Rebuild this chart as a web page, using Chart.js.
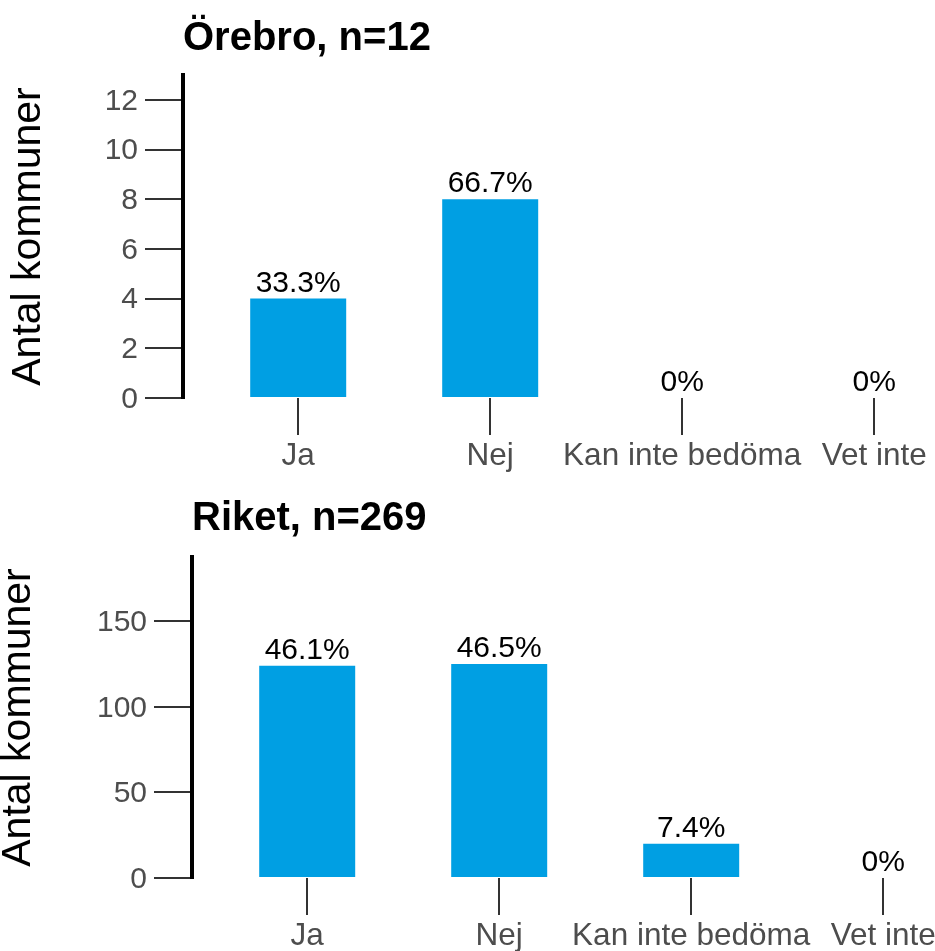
<!DOCTYPE html>
<html>
<head>
<meta charset="utf-8">
<script src="https://cdn.jsdelivr.net/npm/chart.js@4"></script>
<style>
  html, body { margin: 0; padding: 0; background: #fff; overflow: hidden; width: 935px; height: 951px; }
  .wrap { position: absolute; left: 0; }
  canvas { display: block; }
</style>
</head>
<body>
<div class="wrap" style="top:0"><canvas id="c1" width="1000" height="480"></canvas></div>
<div class="wrap" style="top:480px"><canvas id="c2" width="1000" height="471"></canvas></div>
<script>
// ---- data ----
const categories = ['Ja', 'Nej', 'Kan inte bedöma', 'Vet inte'];

const orebroTitle = 'Örebro, n=12';
const orebroValues = [4, 8, 0, 0];
const orebroPct = ['33.3%', '66.7%', '0%', '0%'];
const orebroTicks = [0, 2, 4, 6, 8, 10, 12];
const orebroMax = 13;

const riketTitle = 'Riket, n=269';
const riketValues = [124, 125, 20, 0];
const riketPct = ['46.1%', '46.5%', '7.4%', '0%'];
const riketTicks = [0, 50, 100, 150];
const riketMax = 187.5;

const yTitle = 'Antal kommuner';

// ---- chart builder ----
const FONT = "'Liberation Sans', Arial, Helvetica, sans-serif";
const BAR = '#009FE3';
const GREY = '#4D4D4D';
const TICKC = '#333333';

const labelPlugin = {
  id: 'pctLabels',
  afterDatasetsDraw(chart, args, opts) {
    const ctx = chart.ctx;
    const meta = chart.getDatasetMeta(0);
    ctx.save();
    ctx.font = '30px ' + FONT;
    ctx.fillStyle = '#000';
    ctx.textAlign = 'center';
    ctx.textBaseline = 'alphabetic';
    meta.data.forEach((el, i) => {
      ctx.fillText(opts.labels[i], el.x, el.y - 7);
    });
    ctx.restore();
  }
};

function makeChart(id, title, values, pct, ticks, ymax, cfg) {
  new Chart(document.getElementById(id), {
    type: 'bar',
    data: {
      datasets: [{
        data: values.map((v, i) => ({ x: i, y: v })),
        backgroundColor: BAR,
        borderWidth: 0,
        categoryPercentage: 1,
        barPercentage: 0.5
      }]
    },
    plugins: [labelPlugin],
    options: {
      responsive: false,
      animation: false,
      events: [],
      layout: { padding: { top: 15, left: 0, right: cfg.padRight, bottom: 0 } },
      plugins: {
        legend: { display: false },
        tooltip: { enabled: false },
        title: {
          display: true,
          text: title,
          align: 'start',
          fullSize: false,
          color: '#000',
          font: { family: FONT, size: 40, weight: 'bold', lineHeight: 1.2 },
          padding: { top: 0, bottom: cfg.titleBottom }
        },
        pctLabels: { labels: pct }
      },
      scales: {
        x: {
          type: 'linear',
          min: -0.6,
          max: 3.6,
          offset: false,
          afterBuildTicks: s => { s.ticks = categories.map((c, i) => ({ value: i })); },
          afterFit: s => { s.height = cfg.xHeight; },
          ticks: {
            callback: v => categories[v],
            color: GREY,
            font: { family: FONT, size: 31.5 },
            padding: 2,
            maxRotation: 0,
            autoSkip: false
          },
          grid: { offset: false, drawOnChartArea: false, drawTicks: true, tickLength: 37, color: TICKC, lineWidth: 2 },
          border: { display: false }
        },
        y: {
          min: 0,
          max: ymax,
          afterBuildTicks: s => { s.ticks = ticks.map(v => ({ value: v })); },
          afterFit: s => { s.width = cfg.yWidth; },
          ticks: {
            color: GREY,
            font: { family: FONT, size: 30 },
            padding: 7,
            labelOffset: 1.5
          },
          grid: { drawOnChartArea: false, drawTicks: true, tickLength: 38, color: TICKC, lineWidth: 2 },
          border: { display: true, color: '#000', width: 4 },
          title: {
            display: true,
            text: yTitle,
            color: '#000',
            font: { family: FONT, size: 41, lineHeight: 1 },
            padding: { top: cfg.yTitlePad, bottom: 0 }
          }
        }
      }
    }
  });
}

makeChart('c1', orebroTitle, orebroValues, orebroPct, orebroTicks, orebroMax,
  { yWidth: 183, padRight: 1000 - 183 - 4.2 * 192, xHeight: 82, titleBottom: 12, yTitlePad: 8 });
makeChart('c2', riketTitle, riketValues, riketPct, riketTicks, riketMax,
  { yWidth: 192, padRight: 1000 - 192 - 4.2 * 192, xHeight: 73, titleBottom: 14, yTitlePad: -2 });
</script>
</body>
</html>
